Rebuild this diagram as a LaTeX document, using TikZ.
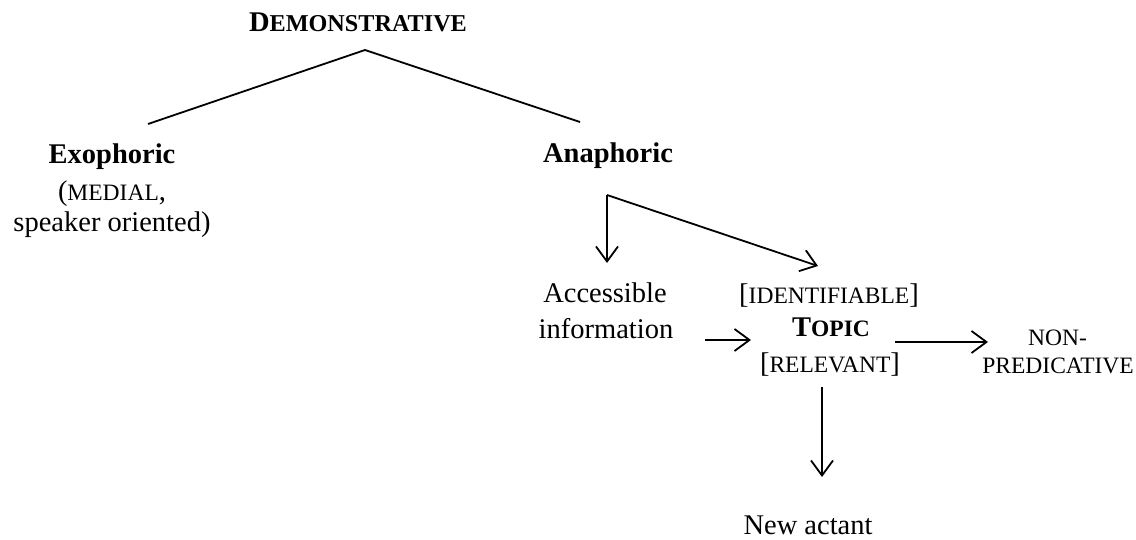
\documentclass[tikz,border=0pt]{standalone}
\usepackage{fontspec}
\setmainfont{Liberation Serif}
\usetikzlibrary{arrows.meta}
\newcommand{\mainsz}{\fontsize{28.5}{33}\selectfont}
\newcommand{\smc}{\fontsize{23.5}{28}\selectfont}
\newcommand{\smcb}{\fontsize{24.2}{28}\selectfont}
\begin{document}
\begin{tikzpicture}[x=1pt,y=-1pt,
  lbl/.style={anchor=base,inner sep=0pt,font=\mainsz},
  ln/.style={line width=1.8pt},
  arr/.style={line width=1.8pt,-{Straight Barb[length=15pt,width=22pt,line width=1.8pt]}}]
\useasboundingbox (0,0) rectangle (1136,540);
% labels
\node[lbl] (demo) at (358,32) {\textbf{D{\smcb EMONSTRATIVE}}};
\node[lbl] (exo) at (112,164) {\textbf{Exophoric}};
\node[lbl] (medial) at (112,201) {({\smc MEDIAL},};
\node[lbl] (spk) at (112,232) {speaker oriented)};
\node[lbl] (ana) at (608,163) {\textbf{Anaphoric}};
\node[lbl] (acc1) at (605,303) {Accessible};
\node[lbl] (acc2) at (606,338) {information};
\node[lbl] (ident) at (829,304) {[{\smc IDENTIFIABLE}]};
\node[lbl] (topic) at (831,337) {\textbf{T{\smc OPIC}}};
\node[lbl] (relev) at (830,372) {[{\smc RELEVANT}]};
\node[lbl,anchor=base west] (non1) at (1028,345) {\smc NON-};
\node[lbl,anchor=base east] (non2) at (1134,373) {\smc PREDICATIVE};
\node[lbl] (newa) at (808,534) {New actant};
% connector points
\coordinate (apex) at (365,50);
\coordinate (exoT) at (148,124);
\coordinate (anaT) at (580,122);
\coordinate (corner) at (607,195);
\coordinate (accT) at (607,263);
\coordinate (identT) at (818,266);
\coordinate (infoR) at (705,340);
\coordinate (topicL) at (751,340);
\coordinate (topicR) at (895,342);
\coordinate (nonL) at (988,342);
\coordinate (relB) at (822,387);
\coordinate (newT) at (822,477);
% connectors
\draw[ln,line join=miter] (exoT) -- (apex) -- (anaT);
\draw[arr] (corner) -- (accT);
\draw[arr] (corner) -- (identT);
\draw[arr] (infoR) -- (topicL);
\draw[arr] (topicR) -- (nonL);
\draw[arr] (relB) -- (newT);
\end{tikzpicture}
\end{document}
